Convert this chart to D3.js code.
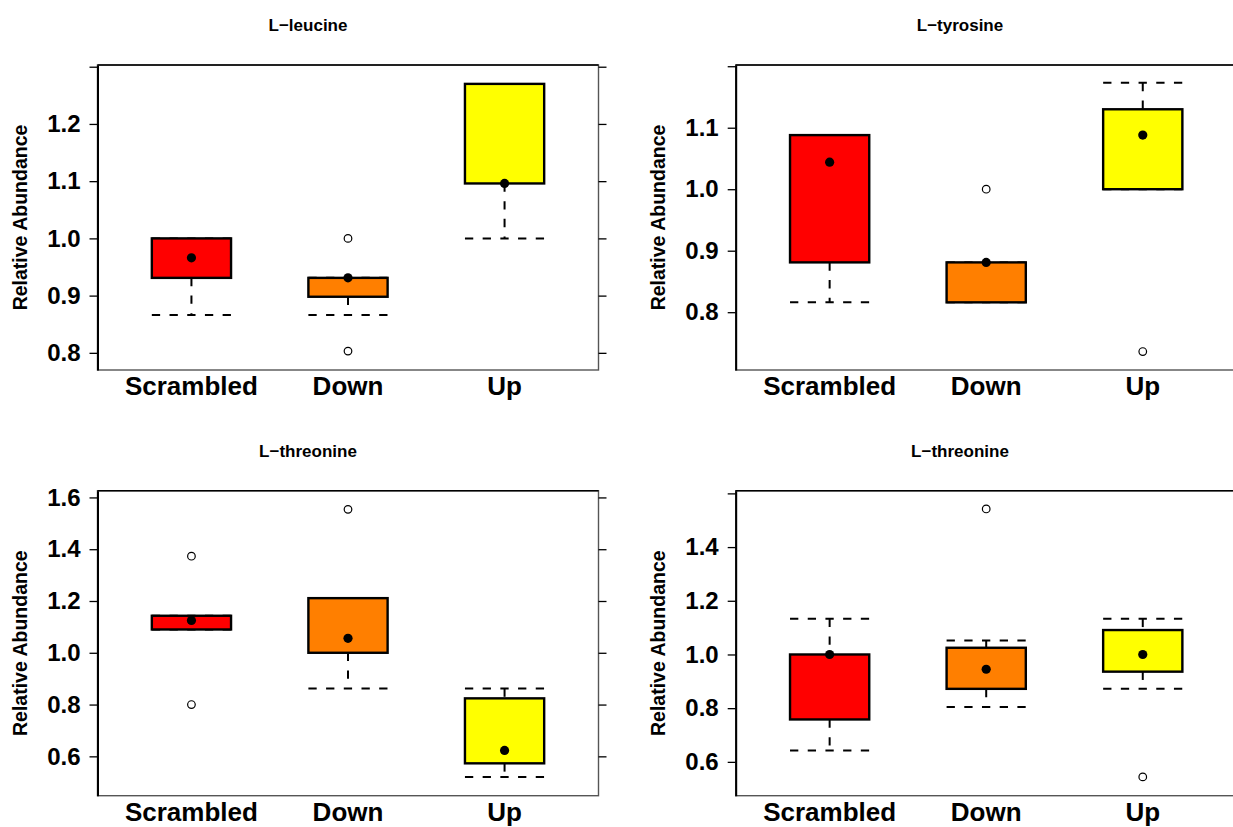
<!DOCTYPE html>
<html>
<head>
<meta charset="utf-8">
<script src="https://cdn.jsdelivr.net/npm/d3@7/dist/d3.min.js"></script>
<style>
body { margin: 0; background: #fff; }
svg text { font-family: "Liberation Sans", Arial, Helvetica, sans-serif; font-weight: bold; fill: #000; }
</style>
</head>
<body>
<div id="chart"></div>
<script>
var categories = ["Scrambled", "Down", "Up"];
var titles = ["L\u2212leucine", "L\u2212tyrosine", "L\u2212threonine", "L\u2212threonine"];

// each box: [lower whisker, Q1, Q3, upper whisker]
var leucineBoxes = [[0.866, 0.931, 1.000, 1.000], [0.866, 0.898, 0.931, 0.931], [1.000, 1.096, 1.270, 1.270]];
var leucineMeans = [0.966, 0.931, 1.096];
var leucineOutliers = [[], [1.000, 0.803], []];
var leucineTicks = [0.8, 0.9, 1.0, 1.1, 1.2, 1.3];
var leucineLabels = ["0.8", "0.9", "1.0", "1.1", "1.2", ""];
var leucineRange = [0.770, 1.303];

var tyrosineBoxes = [[0.816, 0.881, 1.088, 1.088], [0.816, 0.816, 0.881, 0.881], [1.000, 1.000, 1.130, 1.173]];
var tyrosineMeans = [1.044, 0.881, 1.088];
var tyrosineOutliers = [[], [1.000], [0.736]];
var tyrosineTicks = [0.8, 0.9, 1.0, 1.1, 1.2];
var tyrosineLabels = ["0.8", "0.9", "1.0", "1.1", ""];
var tyrosineRange = [0.706, 1.202];

var threonineBoxes = [[1.090, 1.090, 1.143, 1.143], [0.862, 1.000, 1.211, 1.211], [0.520, 0.573, 0.824, 0.862]];
var threonineMeans = [1.125, 1.056, 0.623];
var threonineOutliers = [[1.373, 0.800], [1.554], []];
var threonineTicks = [0.6, 0.8, 1.0, 1.2, 1.4, 1.6];
var threonineLabels = ["0.6", "0.8", "1.0", "1.2", "1.4", "1.6"];
var threonineRange = [0.448, 1.626];

var threonine2Boxes = [[0.642, 0.758, 1.000, 1.133], [0.804, 0.872, 1.025, 1.052], [0.872, 0.936, 1.091, 1.133]];
var threonine2Means = [1.000, 0.945, 1.000];
var threonine2Outliers = [[], [1.542], [0.544]];
var threonine2Ticks = [0.6, 0.8, 1.0, 1.2, 1.4, 1.6];
var threonine2Labels = ["0.6", "0.8", "1.0", "1.2", "1.4", ""];
var threonine2Range = [0.474, 1.610];

var fills = ["#ff0000", "#ff7f00", "#ffff00"];

var svg = d3.select("#chart").append("svg")
    .attr("width", 1233)
    .attr("height", 827);

var BoxPanel = function(opts) {
    this.opts = opts;
    this.setProperties();
    this.draw();
}

BoxPanel.prototype.setProperties = function() {
    this.size = { width: 501, height: 305 };
    this.x = d3.scaleLinear()
        .domain([0.4, 3.6])
        .range([0, this.size.width]);
    this.y = d3.scaleLinear()
        .domain(this.opts.range)
        .range([this.size.height, 0]);
    this.boxHalf = 0.253;
    this.vis = svg.append("g")
        .attr("transform", "translate(" + this.opts.left + "," + this.opts.top + ")");
}

BoxPanel.prototype.draw = function() {
    var self = this;
    var o = this.opts;
    var x = this.x, y = this.y;
    var rows = o.boxes.map(function(b, i) {
        return { i: i + 1, box: b, mean: o.means[i], out: o.outliers[i], fill: fills[i] };
    });

    // title
    svg.append("text")
        .attr("x", o.titleX)
        .attr("y", o.top - 34)
        .attr("text-anchor", "middle")
        .style("font-size", "17px")
        .text(o.title);

    // y axis title
    this.vis.append("text")
        .attr("transform", "translate(-71," + (this.size.height / 2) + ") rotate(-90)")
        .attr("text-anchor", "middle")
        .style("font-size", "19.5px")
        .text("Relative Abundance");

    // frame
    this.vis.append("rect")
        .attr("width", this.size.width)
        .attr("height", this.size.height)
        .attr("fill", "none")
        .attr("stroke", "#555")
        .attr("stroke-width", 1.4);
    this.vis.append("line")
        .attr("x1", 0).attr("x2", this.size.width)
        .attr("stroke", "#000").attr("stroke-width", 1.6);

    var yAxis = d3.axisLeft(y)
        .tickValues(o.ticks)
        .tickFormat(function(d, i) { return o.labels[i]; })
        .tickSize(8)
        .tickPadding(9)
        .tickSizeOuter(0);
    var ax = this.vis.append("g").call(yAxis);
    ax.select(".domain")
        .attr("stroke", "#000")
        .attr("stroke-width", 2);
    ax.selectAll(".tick line").attr("stroke", "#000").attr("stroke-width", 1.3);
    ax.selectAll(".tick text")
        .style("font-size", "24px")
        .style("font-family", "'Liberation Sans', Arial, sans-serif")
        .style("font-weight", "bold");

    if (o.rightTicks) {
        var ax2 = this.vis.append("g")
            .attr("transform", "translate(" + this.size.width + ",0)")
            .call(d3.axisRight(y).tickValues(o.ticks).tickFormat("").tickSize(8).tickSizeOuter(0));
        ax2.select(".domain").remove();
        ax2.selectAll(".tick line").attr("stroke", "#000").attr("stroke-width", 1.3);
    }

    // category labels
    this.vis.selectAll("text.cat").data(categories).enter().append("text")
        .attr("class", "cat")
        .attr("x", function(d, i) { return x(i + 1); })
        .attr("y", this.size.height + 25)
        .attr("text-anchor", "middle")
        .style("font-size", "26px")
        .text(function(d) { return d; });

    var g = this.vis.selectAll("g.box").data(rows).enter().append("g").attr("class", "box");

    // whiskers, drawn top to bottom
    g.append("line")
        .attr("x1", function(d) { return x(d.i); })
        .attr("x2", function(d) { return x(d.i); })
        .attr("y1", function(d) { return y(d.box[3]); })
        .attr("y2", function(d) { return y(d.box[2]); })
        .attr("stroke", "#000").attr("stroke-width", 2)
        .attr("stroke-dasharray", "8.3,9.4");
    g.append("line")
        .attr("x1", function(d) { return x(d.i); })
        .attr("x2", function(d) { return x(d.i); })
        .attr("y1", function(d) { return y(d.box[1]); })
        .attr("y2", function(d) { return y(d.box[0]); })
        .attr("stroke", "#000").attr("stroke-width", 2)
        .attr("stroke-dasharray", "8.3,9.4");

    // staples
    [0, 3].forEach(function(k) {
        g.append("line")
            .attr("x1", function(d) { return x(d.i - self.boxHalf); })
            .attr("x2", function(d) { return x(d.i + self.boxHalf); })
            .attr("y1", function(d) { return y(d.box[k]); })
            .attr("y2", function(d) { return y(d.box[k]); })
            .attr("stroke", "#000").attr("stroke-width", 2)
            .attr("stroke-dasharray", "8.3,9.4");
    });

    g.append("rect")
        .attr("x", function(d) { return x(d.i - self.boxHalf); })
        .attr("width", function(d) { return x(d.i + self.boxHalf) - x(d.i - self.boxHalf); })
        .attr("y", function(d) { return y(d.box[2]); })
        .attr("height", function(d) { return y(d.box[1]) - y(d.box[2]); })
        .attr("fill", function(d) { return d.fill; })
        .attr("stroke", "#000")
        .attr("stroke-width", 2.4);

    g.append("circle")
        .attr("cx", function(d) { return x(d.i); })
        .attr("cy", function(d) { return y(d.mean); })
        .attr("r", 4.6)
        .attr("fill", "#000");

    g.selectAll("circle.out").data(function(d) { return d.out.map(function(v) { return { i: d.i, v: v }; }); })
        .enter().append("circle")
        .attr("class", "out")
        .attr("cx", function(d) { return x(d.i); })
        .attr("cy", function(d) { return y(d.v); })
        .attr("r", 3.8)
        .attr("fill", "#fff")
        .attr("stroke", "#000")
        .attr("stroke-width", 1.2);
}

new BoxPanel({ left: 97.5, top: 65, titleX: 308, title: titles[0], rightTicks: true,
    boxes: leucineBoxes, means: leucineMeans, outliers: leucineOutliers,
    ticks: leucineTicks, labels: leucineLabels, range: leucineRange });
new BoxPanel({ left: 735.7, top: 65, titleX: 960, title: titles[1], rightTicks: false,
    boxes: tyrosineBoxes, means: tyrosineMeans, outliers: tyrosineOutliers,
    ticks: tyrosineTicks, labels: tyrosineLabels, range: tyrosineRange });
new BoxPanel({ left: 97.5, top: 490.7, titleX: 308, title: titles[2], rightTicks: true,
    boxes: threonineBoxes, means: threonineMeans, outliers: threonineOutliers,
    ticks: threonineTicks, labels: threonineLabels, range: threonineRange });
new BoxPanel({ left: 735.7, top: 490.7, titleX: 960, title: titles[3], rightTicks: false,
    boxes: threonine2Boxes, means: threonine2Means, outliers: threonine2Outliers,
    ticks: threonine2Ticks, labels: threonine2Labels, range: threonine2Range });
</script>
</body>
</html>
